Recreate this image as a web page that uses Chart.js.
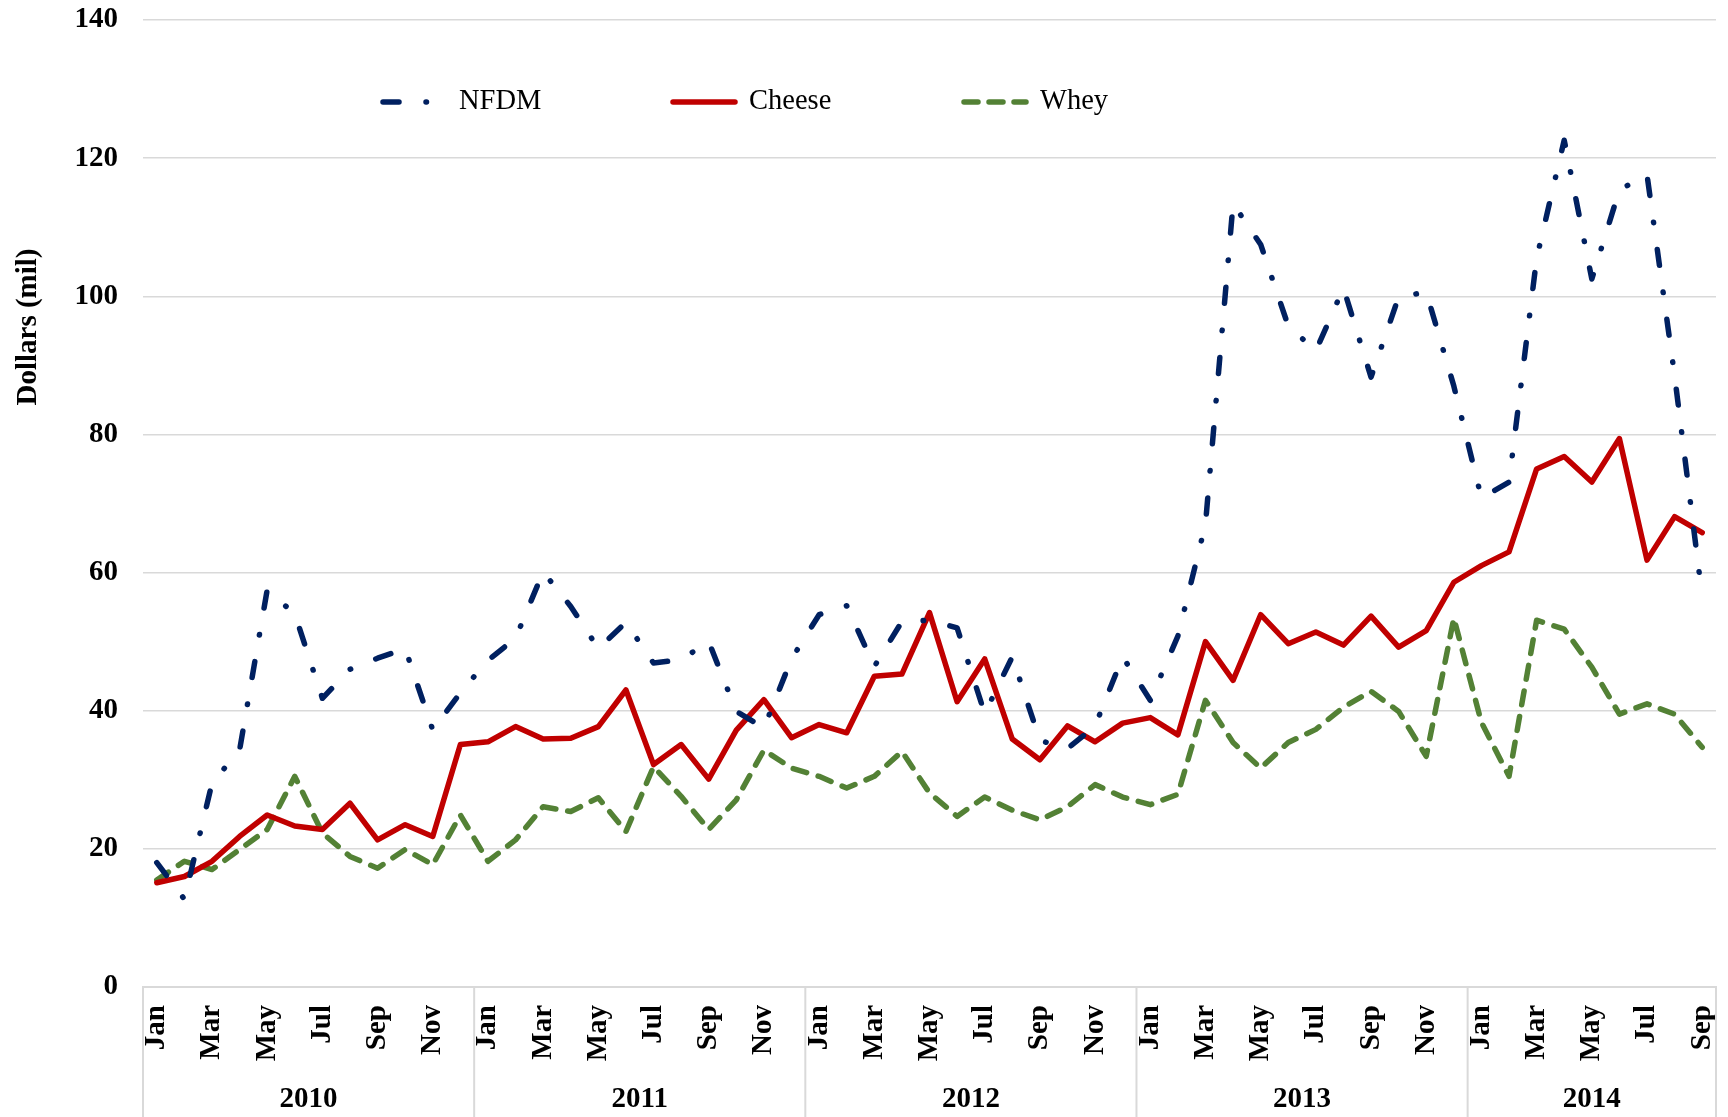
<!DOCTYPE html>
<html><head><meta charset="utf-8">
<script src="https://cdn.jsdelivr.net/npm/chart.js@4/dist/chart.umd.min.js"></script>
<style>html,body{margin:0;padding:0;background:#fff;}#wrap{width:1728px;height:1117px;}</style>
</head><body><div id="wrap"><canvas id="c" width="1728" height="1117"></canvas></div>
<script>
const categories = [
 'Jan','Feb','Mar','Apr','May','Jun','Jul','Aug','Sep','Oct','Nov','Dec',
 'Jan','Feb','Mar','Apr','May','Jun','Jul','Aug','Sep','Oct','Nov','Dec',
 'Jan','Feb','Mar','Apr','May','Jun','Jul','Aug','Sep','Oct','Nov','Dec',
 'Jan','Feb','Mar','Apr','May','Jun','Jul','Aug','Sep','Oct','Nov','Dec',
 'Jan','Feb','Mar','Apr','May','Jun','Jul','Aug','Sep'];
const years = ['2010','2011','2012','2013','2014'];
const seriesNames = ['NFDM','Cheese','Whey'];
const nfdm = [
 18.0,12.7,29.5,34.3,57.5,54.0,41.8,46.0,47.6,49.0,37.2,42.6,
 47.3,50.5,60.1,55.1,49.0,52.8,46.9,47.4,50.0,39.9,37.5,47.5,
 53.9,55.2,46.4,52.9,53.1,52.0,39.6,47.8,35.7,34.5,37.8,47.8,
 41.5,50.8,67.0,113.4,107.5,95.7,92.1,101.2,88.3,99.9,100.6,87.0,
 70.8,73.1,105.5,122.6,102.5,115.4,117.6,88.5,56.5];
const cheese = [
 15.1,16.0,18.2,21.8,24.9,23.3,22.8,26.6,21.3,23.5,21.8,35.1,
 35.5,37.7,35.9,36.0,37.7,43.0,32.2,35.1,30.1,37.2,41.6,36.1,
 38.0,36.8,45.0,45.3,54.2,41.3,47.5,35.9,32.9,37.8,35.5,38.2,
 39.0,36.5,50.0,44.4,53.9,49.7,51.4,49.5,53.7,49.2,51.6,58.6,
 61.0,63.0,75.0,76.8,73.1,79.4,61.8,68.1,65.8];
const whey = [
 15.5,18.2,17.0,19.9,22.8,30.5,22.3,18.9,17.2,19.9,17.7,24.9,
 18.2,21.3,26.1,25.4,27.4,22.5,31.9,27.6,22.8,27.1,34.3,31.7,
 30.5,28.8,30.5,34.1,28.1,24.7,27.5,25.6,24.2,26.1,29.3,27.5,
 26.4,27.9,41.5,35.4,31.7,35.4,37.3,40.5,42.8,39.9,33.4,53.4,
 38.3,30.5,53.1,51.8,46.3,39.5,41.0,39.5,34.7];
const yTicks = [0,20,40,60,80,100,120,140];
const yTitle = 'Dollars (mil)';

const FONT = "'Liberation Serif','Times New Roman',serif";
Chart.defaults.font.family = FONT;
Chart.defaults.color = '#000';

const GRID = '#D9D9D9';

const extras = {
  id: 'extras',
  afterDraw(chart) {
    const ctx = chart.ctx, x = chart.scales.x, area = chart.chartArea;
    const H = chart.height;
    const n = categories.length;
    const step = x.width / n;
    const groups = [];
    categories.forEach((m, i) => {
      if (m === 'Jan' || i === 0) groups.push({ start: i, end: i });
      else groups[groups.length - 1].end = i;
    });
    ctx.save();
    ctx.strokeStyle = GRID; ctx.lineWidth = 2;
    const bounds = [];
    groups.forEach(g => bounds.push(x.getPixelForValue(g.start) - step / 2));
    bounds.push(x.getPixelForValue(n - 1) + step / 2);
    bounds.forEach(b => {
      ctx.beginPath(); ctx.moveTo(b, area.bottom); ctx.lineTo(b, H); ctx.stroke();
    });
    ctx.fillStyle = '#000';
    ctx.font = 'bold 29px ' + FONT;
    ctx.textAlign = 'center'; ctx.textBaseline = 'middle';
    groups.forEach((g, k) => {
      const cx = (x.getPixelForValue(g.start) + x.getPixelForValue(g.end)) / 2;
      ctx.fillText(years[k], cx, 1100);
    });
    ctx.save();
    ctx.translate(29, 327); ctx.rotate(-Math.PI / 2);
    ctx.fillText(yTitle, 0, 0);
    ctx.restore();
    const lx = [383, 673, 964];
    const ly = 102;
    ctx.textAlign = 'left';
    ctx.font = '28.5px ' + FONT;
    chart.data.datasets.forEach((ds, i) => {
      ctx.save();
      ctx.strokeStyle = ds.borderColor; ctx.lineWidth = ds.borderWidth;
      ctx.lineCap = 'round';
      ctx.setLineDash(ds.legendDash || ds.borderDash || []);
      ctx.beginPath(); ctx.moveTo(lx[i], ly); ctx.lineTo(lx[i] + 62, ly); ctx.stroke();
      ctx.restore();
      ctx.fillStyle = '#000';
      ctx.fillText(ds.label, lx[i] + 76, ly);
    });
    ctx.restore();
  }
};

new Chart(document.getElementById('c'), {
  type: 'line',
  data: {
    labels: categories,
    datasets: [
      { label: seriesNames[0], data: nfdm, borderColor: '#002060', borderWidth: 5.5,
        borderDash: [16, 27, 0.5, 27], borderCapStyle: 'round', borderJoinStyle: 'round' },
      { label: seriesNames[1], data: cheese, borderColor: '#C00000', borderWidth: 5.5,
        borderCapStyle: 'round', borderJoinStyle: 'round' },
      { label: seriesNames[2], data: whey, borderColor: '#538135', borderWidth: 5.5,
        borderDash: [14, 12], legendDash: [14, 11], borderCapStyle: 'round', borderJoinStyle: 'round' }
    ]
  },
  options: {
    responsive: false, animation: false, devicePixelRatio: 1,
    layout: { padding: { top: 20, right: 12, left: 0, bottom: 0 } },
    elements: { point: { radius: 0, hoverRadius: 0 }, line: { tension: 0 } },
    plugins: { legend: { display: false }, tooltip: { enabled: false } },
    scales: {
      x: {
        type: 'category', offset: true,
        grid: { display: false },
        border: { display: true, color: GRID, width: 2 },
        ticks: {
          autoSkip: false, minRotation: 90, maxRotation: 90, padding: 10,
          color: '#000', font: { size: 29, weight: 'bold' },
          callback: function (v, i) { return i % 2 === 0 ? this.getLabelForValue(v) : ''; }
        },
        afterFit: s => { s.height = 130; s.paddingLeft = 0; s.paddingRight = 0; s.paddingTop = 0; s.paddingBottom = 0; }
      },
      y: {
        min: 0, max: 140,
        afterBuildTicks: s => { s.ticks = yTicks.map(v => ({ value: v })); },
        ticks: { padding: 25, color: '#000', font: { size: 29, weight: 'bold' } },
        grid: { color: GRID, lineWidth: 1.5, drawTicks: false },
        border: { display: false },
        afterFit: s => { s.width = 143; s.paddingTop = 0; s.paddingBottom = 0; s.paddingLeft = 0; s.paddingRight = 0; }
      }
    }
  },
  plugins: [extras]
});
</script></body></html>
